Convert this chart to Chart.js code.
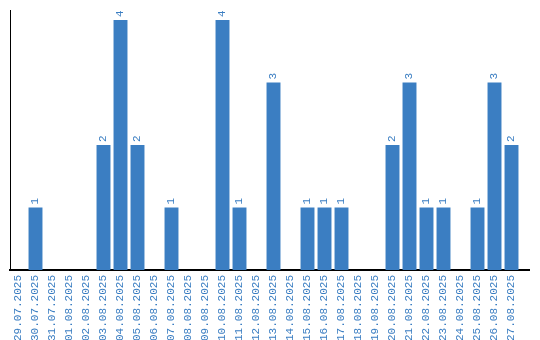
<!DOCTYPE html>
<html>
<head>
<meta charset="utf-8">
<script src="https://cdn.jsdelivr.net/npm/chart.js@4"></script>
<style>
  html, body { margin: 0; padding: 0; background: #fff; }
  #wrap { width: 540px; height: 340px; }
</style>
</head>
<body>
<div id="wrap"><canvas id="barChart"></canvas></div>
<script>
const dates = [
  '29.07.2025', '30.07.2025', '31.07.2025', '01.08.2025', '02.08.2025',
  '03.08.2025', '04.08.2025', '05.08.2025', '06.08.2025', '07.08.2025',
  '08.08.2025', '09.08.2025', '10.08.2025', '11.08.2025', '12.08.2025',
  '13.08.2025', '14.08.2025', '15.08.2025', '16.08.2025', '17.08.2025',
  '18.08.2025', '19.08.2025', '20.08.2025', '21.08.2025', '22.08.2025',
  '23.08.2025', '24.08.2025', '25.08.2025', '26.08.2025', '27.08.2025'
];
const counts = [0, 1, 0, 0, 0, 2, 4, 2, 0, 1, 0, 0, 4, 1, 0, 3, 0, 1, 1, 1, 0, 0, 2, 3, 1, 1, 0, 1, 3, 2];

const blue = 'rgb(59, 126, 194)';
const labelFont = 'Liberation Mono';

// value labels above bars, rotated like the axis labels
const valueLabels = {
  id: 'valueLabels',
  afterDatasetsDraw(chart) {
    const ctx = chart.ctx;
    const meta = chart.getDatasetMeta(0);
    ctx.save();
    ctx.fillStyle = blue;
    ctx.font = '11px "' + labelFont + '"';
    ctx.textAlign = 'left';
    ctx.textBaseline = 'middle';
    meta.data.forEach((bar, i) => {
      if (!counts[i]) return;
      ctx.save();
      ctx.translate(bar.x, bar.y - 3);
      ctx.rotate(-Math.PI / 2);
      ctx.fillText(String(counts[i]), 0, 0);
      ctx.restore();
    });
    ctx.restore();
  }
};

// the baseline runs a little past the last category
const axisTail = {
  id: 'axisTail',
  afterDraw(chart) {
    const ctx = chart.ctx;
    const x = chart.scales.x;
    ctx.save();
    ctx.fillStyle = '#000';
    ctx.fillRect(x.right - 1, Math.round(x.top) - 1, 11, 2);
    ctx.restore();
  }
};

const barChart = new Chart(document.getElementById('barChart'), {
  type: 'bar',
  data: {
    labels: dates,
    datasets: [{
      data: counts,
      backgroundColor: blue,
      barPercentage: 0.82,
      categoryPercentage: 1
    }]
  },
  options: {
    responsive: true,
    maintainAspectRatio: false,
    animation: false,
    layout: { padding: { left: 2, right: 20, top: 10, bottom: 0 } },
    plugins: {
      legend: { display: false },
      tooltip: { enabled: false }
    },
    scales: {
      x: {
        afterFit(scale) { scale.height = 70; },
        grid: { display: false },
        border: { color: '#000', width: 2 },
        ticks: {
          color: blue,
          font: { family: labelFont, size: 11 },
          minRotation: 90,
          maxRotation: 90,
          autoSkip: false,
          padding: -3
        }
      },
      y: {
        min: 0,
        max: 4.16,
        grid: { display: false },
        border: { color: '#000', width: 1 },
        ticks: { display: false }
      }
    }
  },
  plugins: [valueLabels, axisTail]
});
</script>
</body>
</html>
